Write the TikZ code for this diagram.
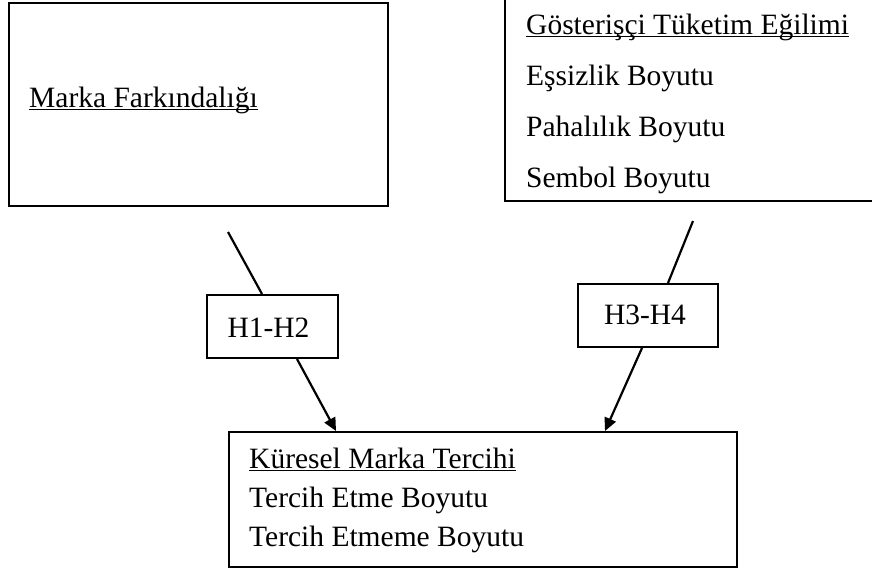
\documentclass[tikz,border=0pt]{standalone}
\usepackage{fontspec}
\setmainfont{Liberation Serif}
\usetikzlibrary{arrows.meta,calc}
\tikzset{
  box/.style={draw, line width=2pt, rectangle, inner sep=0pt, fill=none},
  txt/.style={anchor=base west, inner sep=0pt, font=\fontsize{29.5}{35}\selectfont},
  ctxt/.style={inner sep=0pt, font=\fontsize{29.5}{35}\selectfont},
  uline/.style={line width=1.6pt},
  conn/.style={line width=2.2pt},
  arr/.style={line width=2.2pt, -{Triangle[length=13pt,width=12pt]}}
}
\begin{document}
\begin{tikzpicture}[x=1pt,y=-1pt]
\useasboundingbox (0,0) rectangle (872,568);
\clip (0,0) rectangle (872,568);
\fill[white] (0,0) rectangle (872,568);
% boxes
\node[box, anchor=north west, minimum width=379pt, minimum height=203pt] (mf) at (8,2) {};
\node[box, anchor=south west, minimum width=420pt, minimum height=260pt] (gt) at (504,202) {};
\node[box, anchor=north west, minimum width=131pt, minimum height=63pt] (h12) at (206,294) {};
\node[box, anchor=north west, minimum width=140pt, minimum height=63pt] (h34) at (577,283) {};
\node[box, anchor=north west, minimum width=508pt, minimum height=135pt] (kmt) at (228,431) {};
% texts
\node[txt] (t1) at (29,107) {Marka Farkındalığı};
\draw[uline] ([yshift=-2.5pt]t1.base west) -- ([yshift=-2.5pt]t1.base east);
\node[txt] (g1) at (526,34) {Gösterişçi Tüketim Eğilimi};
\draw[uline] ([yshift=-2.5pt]g1.base west) -- ([yshift=-2.5pt]g1.base east);
\node[txt] (g2) at (526,85.5) {Eşsizlik Boyutu};
\node[txt] (g3) at (526,136.5) {Pahalılık Boyutu};
\node[txt] (g4) at (526,187.5) {Sembol Boyutu};
\node[ctxt] (l12) at ($(h12.center)+(-4,1)$) {H1-H2};
\node[ctxt] (l34) at ($(h34.center)+(-3,-1)$) {H3-H4};
\node[txt] (k1) at (249,468) {Küresel Marka Tercihi};
\draw[uline] ([yshift=-2.5pt]k1.base west) -- ([yshift=-2.5pt]k1.base east);
\node[txt] (k2) at (249,507) {Tercih Etme Boyutu};
\node[txt] (k3) at (249,546) {Tercih Etmeme Boyutu};
% connectors
\coordinate (p1) at (228,232);
\coordinate (p2) at (693,221);
\draw[conn] (p1) -- ($(h12.north west)+(56,0)$);
\draw[arr] ($(h12.south west)+(91,0)$) -- ($(kmt.north west)+(108,0)$);
\draw[conn] (p2) -- ($(h34.north west)+(91,0)$);
\draw[arr] ($(h34.south west)+(65,0)$) -- ($(kmt.north west)+(377,0)$);
\end{tikzpicture}
\end{document}
